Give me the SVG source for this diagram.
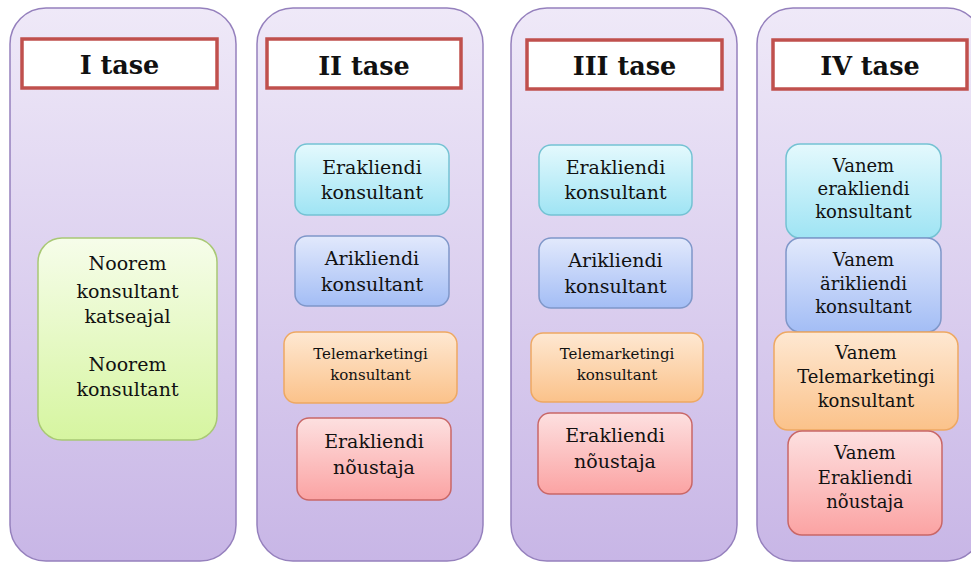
<svg xmlns="http://www.w3.org/2000/svg" width="971" height="565" viewBox="0 0 971 565">
<defs>
<linearGradient id="gCol" x1="0" y1="0" x2="0" y2="1"><stop offset="0" stop-color="#efe9f8"/><stop offset="1" stop-color="#c8b6e6"/></linearGradient>
<linearGradient id="gCyan" x1="0" y1="0" x2="0" y2="1"><stop offset="0" stop-color="#e4f9fd"/><stop offset="1" stop-color="#9fe4f4"/></linearGradient>
<linearGradient id="gBlue" x1="0" y1="0" x2="0" y2="1"><stop offset="0" stop-color="#e2e9fc"/><stop offset="1" stop-color="#a3bdf5"/></linearGradient>
<linearGradient id="gOrange" x1="0" y1="0" x2="0" y2="1"><stop offset="0" stop-color="#fee8d2"/><stop offset="1" stop-color="#fbc28a"/></linearGradient>
<linearGradient id="gRed" x1="0" y1="0" x2="0" y2="1"><stop offset="0" stop-color="#fde0e0"/><stop offset="1" stop-color="#fba3a3"/></linearGradient>
<linearGradient id="gGreen" x1="0" y1="0" x2="0" y2="1"><stop offset="0" stop-color="#f6fdea"/><stop offset="1" stop-color="#d6f5a0"/></linearGradient>
</defs>
<style>
.col{fill:url(#gCol);stroke:#9580bd;stroke-width:1.5}
.hdr{fill:#ffffff;stroke:#c0504d;stroke-width:3.5}
text{font-family:'DejaVu Serif','Liberation Serif',serif;fill:#111;text-anchor:middle}
.ht{font-weight:bold;font-size:25.5px}
.tx{font-size:19px}
.ts{font-size:15px}
.t4{font-size:18px}
.cyan{fill:url(#gCyan);stroke:#74c2d3;stroke-width:1.5}
.blue{fill:url(#gBlue);stroke:#7f97c9;stroke-width:1.5}
.orange{fill:url(#gOrange);stroke:#eea862;stroke-width:1.5}
.red{fill:url(#gRed);stroke:#c96767;stroke-width:1.5}
.green{fill:url(#gGreen);stroke:#a8c874;stroke-width:1.5}
</style>
<g id="columns">
<rect class="col" x="10" y="8" width="226" height="553" rx="36"/>
<rect class="col" x="257" y="8" width="226" height="553" rx="36"/>
<rect class="col" x="511" y="8" width="226" height="553" rx="36"/>
<rect class="col" x="757" y="8" width="226" height="553" rx="36"/>
</g>
<g id="h1"><rect class="hdr" x="22" y="39" width="195" height="49"/><text class="ht" x="119.5" y="74">I tase</text></g>
<g id="h2"><rect class="hdr" x="267" y="39" width="194" height="49"/><text class="ht" x="364" y="75">II tase</text></g>
<g id="h3"><rect class="hdr" x="527" y="40" width="195" height="49"/><text class="ht" x="624.5" y="75">III tase</text></g>
<g id="h4"><rect class="hdr" x="773" y="40" width="194" height="49"/><text class="ht" x="870" y="75">IV tase</text></g>

<g id="n1"><rect class="green" x="38" y="238" width="179" height="202" rx="24"/>
<text class="tx" x="127.5" y="270">Noorem</text><text class="tx" x="127.5" y="298">konsultant</text><text class="tx" x="127.5" y="323">katseajal</text>
<text class="tx" x="127.5" y="371">Noorem</text><text class="tx" x="127.5" y="396">konsultant</text></g>

<g id="n2a"><rect class="cyan" x="295" y="144" width="154" height="71" rx="12"/><text class="tx" x="372" y="174">Erakliendi</text><text class="tx" x="372" y="199">konsultant</text></g>
<g id="n2b"><rect class="blue" x="295" y="236" width="154" height="70" rx="12"/><text class="tx" x="372" y="265">Arikliendi</text><text class="tx" x="372" y="291">konsultant</text></g>
<g id="n2c"><rect class="orange" x="284" y="332" width="173" height="71" rx="12"/><text class="ts" x="370.5" y="359">Telemarketingi</text><text class="ts" x="370.5" y="380">konsultant</text></g>
<g id="n2d"><rect class="red" x="297" y="418" width="154" height="82" rx="12"/><text class="tx" x="374" y="448">Erakliendi</text><text class="tx" x="374" y="474">nõustaja</text></g>

<g id="n3a"><rect class="cyan" x="539" y="145" width="153" height="70" rx="12"/><text class="tx" x="615.5" y="174">Erakliendi</text><text class="tx" x="615.5" y="199">konsultant</text></g>
<g id="n3b"><rect class="blue" x="539" y="238" width="153" height="70" rx="12"/><text class="tx" x="615.5" y="267">Arikliendi</text><text class="tx" x="615.5" y="293">konsultant</text></g>
<g id="n3c"><rect class="orange" x="531" y="333" width="172" height="69" rx="12"/><text class="ts" x="617" y="359">Telemarketingi</text><text class="ts" x="617" y="380">konsultant</text></g>
<g id="n3d"><rect class="red" x="538" y="413" width="154" height="81" rx="12"/><text class="tx" x="615" y="442">Erakliendi</text><text class="tx" x="615" y="468">nõustaja</text></g>

<g id="n4a"><rect class="cyan" x="786" y="144" width="155" height="94" rx="14"/><text class="t4" x="863.5" y="172">Vanem</text><text class="t4" x="863.5" y="195">erakliendi</text><text class="t4" x="863.5" y="218">konsultant</text></g>
<g id="n4b"><rect class="blue" x="786" y="238" width="155" height="94" rx="14"/><text class="t4" x="863.5" y="266">Vanem</text><text class="t4" x="863.5" y="290">ärikliendi</text><text class="t4" x="863.5" y="313">konsultant</text></g>
<g id="n4c"><rect class="orange" x="774" y="332" width="184" height="98" rx="14"/><text class="t4" x="866" y="359">Vanem</text><text class="t4" x="866" y="383">Telemarketingi</text><text class="t4" x="866" y="407">konsultant</text></g>
<g id="n4d"><rect class="red" x="788" y="431" width="154" height="104" rx="14"/><text class="t4" x="865" y="459">Vanem</text><text class="t4" x="865" y="484">Erakliendi</text><text class="t4" x="865" y="508">nõustaja</text></g>
<g id="connectors"/>
</svg>
